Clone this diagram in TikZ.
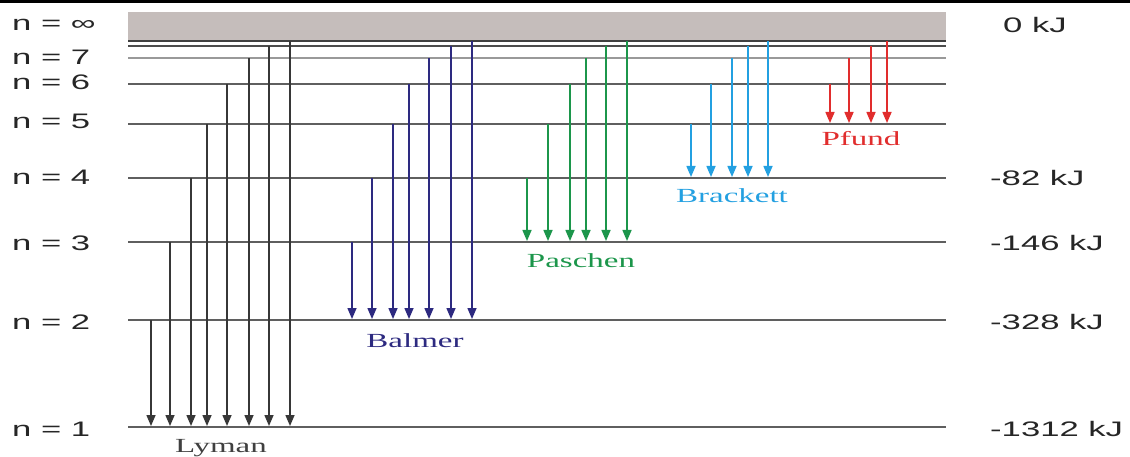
\documentclass[tikz,border=0pt]{standalone}
\usepackage{fontspec}
\setmainfont{Liberation Serif}
\setsansfont{Liberation Sans}
\usepackage{graphicx}
\usetikzlibrary{arrows.meta}
\definecolor{barfill}{RGB}{197,189,187}
\definecolor{lvl}{RGB}{95,95,95}
\definecolor{lyc}{RGB}{55,55,55}
\definecolor{bac}{RGB}{45,42,128}
\definecolor{pac}{RGB}{28,150,75}
\definecolor{brc}{RGB}{35,160,225}
\definecolor{pfc}{RGB}{225,45,45}
\newcommand\hstr[1]{\scalebox{1.65}[1]{#1}}
\tikzset{
  level/.style={draw=lvl, line width=1.4pt},
  trans/.style={line width=1.5pt, -{Triangle[length=11pt,width=9pt]}},
  nlab/.style={anchor=base west, inner sep=0pt, text=black!85, font=\sffamily\fontsize{21}{21}\selectfont},
  elab/.style={anchor=base west, inner sep=0pt, text=black!85, font=\sffamily\fontsize{21}{21}\selectfont},
  slab/.style={anchor=base, inner sep=0pt, font=\rmfamily\fontsize{20}{20}\selectfont}
}
\begin{document}
\begin{tikzpicture}[x=1pt,y=-1pt]
\useasboundingbox[fill=white] (0,0) rectangle (1130,457);
\fill[black] (0,0) rectangle (1130,3.5);
\fill[barfill] (128,12) rectangle (946,40);
% energy levels
\draw[level, draw=black!75, line width=1.8pt] (128,41) -- (946,41);
\draw[level, draw=black!70] (128,46) -- (946,46);
\draw[level, draw=black!40, line width=2pt] (128,58) -- (946,58);
\foreach \y in {84,124,178,242,320,427}
  \draw[level] (128,\y) -- (946,\y);
% level labels
\node[nlab] (ninf) at (12,31) {\hstr{n = ∞}};
\node[nlab] (n7) at (12,65) {\hstr{n = 7}};
\node[nlab] (n6) at (12,90) {\hstr{n = 6}};
\node[nlab] (n5) at (12,128.5) {\hstr{n = 5}};
\node[nlab] (n4) at (12,185) {\hstr{n = 4}};
\node[nlab] (n3) at (12,251) {\hstr{n = 3}};
\node[nlab] (n2) at (12,329.5) {\hstr{n = 2}};
\node[nlab] (n1) at (12,436.5) {\hstr{n = 1}};
\node[elab] (e0) at (1003,32.5) {\hstr{0 kJ}};
\node[elab] (e4) at (990,185.5) {\hstr{-82 kJ}};
\node[elab] (e3) at (990,251) {\hstr{-146 kJ}};
\node[elab] (e2) at (990,329.5) {\hstr{-328 kJ}};
\node[elab] (e1) at (990,436) {\hstr{-1312 kJ}};
% Lyman
\foreach \x/\s in {151/320,170/242,191/178,207/124,227/84,249/58,269/46,290/41}
  \draw[trans, lyc] (\x,\s) -- (\x,426);
\node[slab, text=black!75] (lyman) at (221,452) {\hstr{Lyman}};
% Balmer
\foreach \x/\s in {352/242,372/178,393/124,409/84,429/58,451/46,472/41}
  \draw[trans, bac] (\x,\s) -- (\x,319);
\node[slab, text=bac] (balmer) at (415,347) {\hstr{Balmer}};
% Paschen
\foreach \x/\s in {527/178,548/124,570/84,586/58,606/46,627/41}
  \draw[trans, pac] (\x,\s) -- (\x,241);
\node[slab, text=pac] (paschen) at (581,267) {\hstr{Paschen}};
% Brackett
\foreach \x/\s in {691/124,711/84,732/58,748/46,768/41}
  \draw[trans, brc] (\x,\s) -- (\x,177);
\node[slab, text=brc] (brackett) at (732,203) {\hstr{Brackett}};
% Pfund
\foreach \x/\s in {830/84,849/58,871/46,887/41}
  \draw[trans, pfc] (\x,\s) -- (\x,123);
\node[slab, text=pfc] (pfund) at (861,146) {\hstr{Pfund}};
\end{tikzpicture}
\end{document}
